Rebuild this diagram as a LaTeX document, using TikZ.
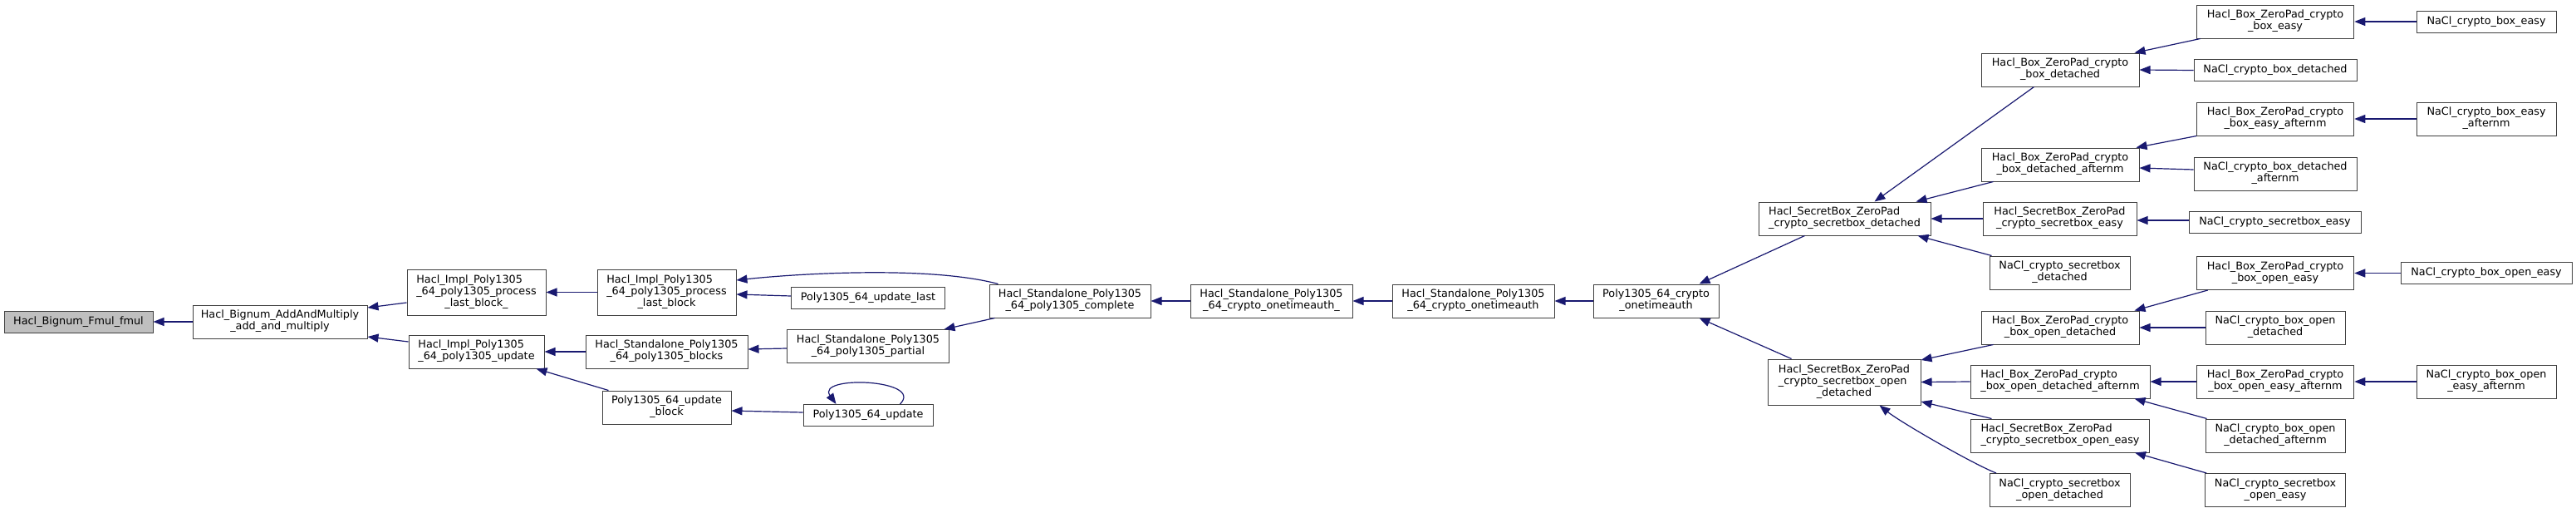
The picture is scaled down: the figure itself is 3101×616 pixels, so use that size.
\documentclass[tikz,border=0pt]{standalone}
\usepackage{fontspec}
\setmainfont{DejaVu Sans}
\usetikzlibrary{arrows.meta}
\definecolor{midblue}{RGB}{25,25,112}
\newcommand{\fnlabel}[2]{\begin{tabular}{@{}l@{}}#1\\\multicolumn{1}{@{}c@{}}{#2}\end{tabular}}

\begin{document}
\begin{tikzpicture}[x=1pt, y=-1pt,
    fn/.style={draw=black!75, fill=white, line width=1pt, inner sep=0pt,
               font=\fontsize{12.8}{14.2}\selectfont},
    one/.style={fn, minimum height=26pt},
    two/.style={fn, minimum height=40pt},
    three/.style={fn, minimum height=55pt},
    edge/.style={draw=midblue, line width=1.2pt, -{Triangle[length=13pt, width=10pt]}}]
    \useasboundingbox (0,0) rectangle (3101,616);

    % Function and its direct caller
    \node[one, fill=black!25, minimum width=179pt] (fmul) at (94.5,387) {Hacl\_Bignum\_Fmul\_fmul};
    \node[two, minimum width=210pt] (addmul) at (337,387) {\fnlabel{Hacl\_Bignum\_AddAndMultiply}{\_add\_and\_multiply}};

    % Impl layer
    \node[three, minimum width=167pt] (plbu) at (573.5,351.5) {\fnlabel{Hacl\_Impl\_Poly1305\\\_64\_poly1305\_process}{\_last\_block\_}};
    \node[two, minimum width=163pt] (pupd) at (573.5,423) {\fnlabel{Hacl\_Impl\_Poly1305}{\_64\_poly1305\_update}};
    \node[three, minimum width=167pt] (plb) at (802.5,351.5) {\fnlabel{Hacl\_Impl\_Poly1305\\\_64\_poly1305\_process}{\_last\_block}};
    \node[two, minimum width=195pt] (sblocks) at (802.5,423) {\fnlabel{Hacl\_Standalone\_Poly1305}{\_64\_poly1305\_blocks}};
    \node[two, minimum width=155pt] (ublock) at (802.5,490) {\fnlabel{Poly1305\_64\_update}{\_block}};

    % Standalone layer
    \node[one, minimum width=185pt] (ulast) at (1045,358) {Poly1305\_64\_update\_last};
    \node[two, minimum width=195pt] (partial) at (1045,416.5) {\fnlabel{Hacl\_Standalone\_Poly1305}{\_64\_poly1305\_partial}};
    \node[one, minimum width=156pt] (upd) at (1045,499.5) {Poly1305\_64\_update};
    \node[two, minimum width=194pt] (complete) at (1288,362) {\fnlabel{Hacl\_Standalone\_Poly1305}{\_64\_poly1305\_complete}};
    \node[two, minimum width=195pt] (otau) at (1530.5,362) {\fnlabel{Hacl\_Standalone\_Poly1305}{\_64\_crypto\_onetimeauth\_}};
    \node[two, minimum width=195pt] (ota) at (1773.5,362) {\fnlabel{Hacl\_Standalone\_Poly1305}{\_64\_crypto\_onetimeauth}};
    \node[two, minimum width=151pt] (pota) at (1993.5,362) {\fnlabel{Poly1305\_64\_crypto}{\_onetimeauth}};

    % SecretBox
    \node[two, minimum width=207pt] (sbdet) at (2220.5,263) {\fnlabel{Hacl\_SecretBox\_ZeroPad}{\_crypto\_secretbox\_detached}};
    \node[three, minimum width=184pt] (sbodet) at (2220,459.5) {\fnlabel{Hacl\_SecretBox\_ZeroPad\\\_crypto\_secretbox\_open}{\_detached}};

    % Box and NaCl wrappers
    \node[two, minimum width=190pt] (bdet) at (2480,84) {\fnlabel{Hacl\_Box\_ZeroPad\_crypto}{\_box\_detached}};
    \node[two, minimum width=190pt] (bdetafn) at (2480,198) {\fnlabel{Hacl\_Box\_ZeroPad\_crypto}{\_box\_detached\_afternm}};
    \node[two, minimum width=185pt] (sbeasy) at (2479.5,263) {\fnlabel{Hacl\_SecretBox\_ZeroPad}{\_crypto\_secretbox\_easy}};
    \node[two, minimum width=169pt] (nsbdet) at (2479.5,328) {\fnlabel{NaCl\_crypto\_secretbox}{\_detached}};
    \node[two, minimum width=190pt] (bodet) at (2480,394) {\fnlabel{Hacl\_Box\_ZeroPad\_crypto}{\_box\_open\_detached}};
    \node[two, minimum width=216pt] (bodetafn) at (2480,459) {\fnlabel{Hacl\_Box\_ZeroPad\_crypto}{\_box\_open\_detached\_afternm}};
    \node[two, minimum width=215pt] (sboeasy) at (2480,524) {\fnlabel{Hacl\_SecretBox\_ZeroPad}{\_crypto\_secretbox\_open\_easy}};
    \node[two, minimum width=169pt] (nsbodet) at (2479.5,589.5) {\fnlabel{NaCl\_crypto\_secretbox}{\_open\_detached}};

    \node[two, minimum width=189.5pt] (beasy) at (2739,26) {\fnlabel{Hacl\_Box\_ZeroPad\_crypto}{\_box\_easy}};
    \node[one, minimum width=196pt] (nbdet) at (2739,84.5) {NaCl\_crypto\_box\_detached};
    \node[two, minimum width=189.5pt] (beasyafn) at (2739,143) {\fnlabel{Hacl\_Box\_ZeroPad\_crypto}{\_box\_easy\_afternm}};
    \node[two, minimum width=196pt] (nbdetafn) at (2739,209) {\fnlabel{NaCl\_crypto\_box\_detached}{\_afternm}};
    \node[one, minimum width=207pt] (nsbeasy) at (2738.5,267.5) {NaCl\_crypto\_secretbox\_easy};
    \node[two, minimum width=189.5pt] (boeasy) at (2739,328.5) {\fnlabel{Hacl\_Box\_ZeroPad\_crypto}{\_box\_open\_easy}};
    \node[two, minimum width=168pt] (nbodet) at (2739,394) {\fnlabel{NaCl\_crypto\_box\_open}{\_detached}};
    \node[two, minimum width=189.5pt] (boeasyafn) at (2739,459) {\fnlabel{Hacl\_Box\_ZeroPad\_crypto}{\_box\_open\_easy\_afternm}};
    \node[two, minimum width=168pt] (nbodetafn) at (2739,524) {\fnlabel{NaCl\_crypto\_box\_open}{\_detached\_afternm}};
    \node[two, minimum width=169.5pt] (nsboeasy) at (2739,589.5) {\fnlabel{NaCl\_crypto\_secretbox}{\_open\_easy}};

    \node[one, minimum width=168pt] (nbeasy) at (2993,26) {NaCl\_crypto\_box\_easy};
    \node[two, minimum width=168pt] (nbeasyafn) at (2993,143) {\fnlabel{NaCl\_crypto\_box\_easy}{\_afternm}};
    \node[one, minimum width=206pt] (nboeasy) at (2993,328.5) {NaCl\_crypto\_box\_open\_easy};
    \node[two, minimum width=168pt] (nboeasyafn) at (2993,459) {\fnlabel{NaCl\_crypto\_box\_open}{\_easy\_afternm}};

    % Calls, left part
    \draw[edge] (addmul.west) -- (fmul.east);
    \draw[edge] ([yshift=-12.5pt]plbu.west) -- ([yshift=17pt]addmul.east);
    \draw[edge] ([yshift=12pt]pupd.west) -- ([yshift=-18pt]addmul.east);
    \draw[edge] (plb.west) -- (plbu.east);
    \draw[edge] (sblocks.west) -- (pupd.east);
    \draw[edge] ([xshift=8pt]ublock.north west) -- ([xshift=-10pt]pupd.south east);
    \draw[edge] ([xshift=11pt]complete.north west) .. controls +(-82,-22) and +(74,-8) .. ([yshift=14.5pt]plb.east);
    \draw[edge] ([yshift=2pt]ulast.west) -- ([yshift=-2.5pt]plb.east);
    \draw[edge] ([yshift=-2.5pt]partial.west) -- ([yshift=3pt]sblocks.east);
    \draw[edge] ([yshift=3.5pt]upd.west) -- ([yshift=-4pt]ublock.east);
    \draw[edge] ([xshift=-40pt]upd.north east) .. controls +(30,-30) and +(-25,-35) .. ([xshift=40pt]upd.north west);
    \draw[edge] ([xshift=7pt]complete.south west) -- ([xshift=-6.5pt]partial.north east);

    % Calls, middle
    \draw[edge] (otau.west) -- (complete.east);
    \draw[edge] (ota.west) -- (otau.east);
    \draw[edge] (pota.west) -- (ota.east);
    \draw[edge] ([xshift=56pt]sbdet.south west) -- ([xshift=-24pt]pota.north east);
    \draw[edge] ([xshift=29pt]sbodet.north west) -- ([xshift=-24pt]pota.south east);

    % Calls, right part
    \draw[edge] ([xshift=64pt]bdet.south west) -- ([xshift=-68pt]sbdet.north east);
    \draw[edge] ([xshift=15pt]bdetafn.south west) -- ([xshift=-18pt]sbdet.north east);
    \draw[edge] (sbeasy.west) -- (sbdet.east);
    \draw[edge] ([xshift=3pt]nsbdet.north west) -- ([xshift=-16pt]sbdet.south east);
    \draw[edge] ([xshift=15pt]bodet.south west) -- ([yshift=26.5pt]sbodet.east);
    \draw[edge] (bodetafn.west) -- (sbodet.east);
    \draw[edge] ([xshift=25.5pt]sboeasy.north west) -- ([yshift=-23.5pt]sbodet.east);
    \draw[edge] ([xshift=8.5pt]nsbodet.north west) .. controls +(-30,-12) and +(25,20) .. ([xshift=-50pt]sbodet.south east);

    \draw[edge] ([xshift=5pt]beasy.south west) -- ([xshift=-6pt]bdet.north east);
    \draw[edge] (nbdet.west) -- (bdet.east);
    \draw[edge] ([xshift=0.5pt]beasyafn.south west) -- ([xshift=-4pt]bdetafn.north east);
    \draw[edge] ([yshift=5pt]nbdetafn.west) -- ([yshift=-4pt]bdetafn.east);
    \draw[edge] ([yshift=2.5pt]nsbeasy.west) -- ([yshift=-2pt]sbeasy.east);
    \draw[edge] ([xshift=14pt]boeasy.south west) -- ([xshift=-6pt]bodet.north east);
    \draw[edge] (nbodet.west) -- (bodet.east);
    \draw[edge] (boeasyafn.west) -- (bodetafn.east);
    \draw[edge] ([xshift=2pt]nbodetafn.north west) -- ([xshift=-19pt]bodetafn.south east);
    \draw[edge] ([xshift=2.5pt]nsboeasy.north west) -- ([xshift=-18pt]sboeasy.south east);

    \draw[edge] (nbeasy.west) -- (beasy.east);
    \draw[edge] (nbeasyafn.west) -- (beasyafn.east);
    \draw[edge] (nboeasy.west) -- (boeasy.east);
    \draw[edge] (nboeasyafn.west) -- (boeasyafn.east);
\end{tikzpicture}
\end{document}
